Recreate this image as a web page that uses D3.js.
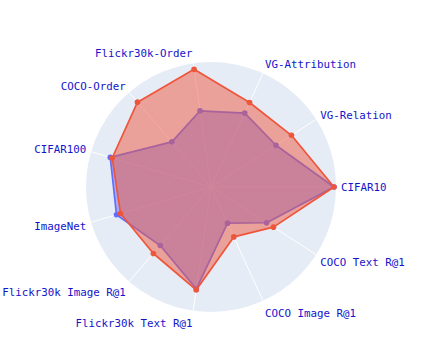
<!DOCTYPE html>
<html>
<head>
<meta charset="utf-8">
<script src="https://cdn.jsdelivr.net/npm/d3@7"></script>
<style>
  html, body { margin: 0; padding: 0; background: #fff; }
  svg { display: block; }
</style>
</head>
<body>
<svg id="radar" width="423" height="363"></svg>
<script>
// categories, counter-clockwise starting from the right
var categories = ["CIFAR10", "VG-Relation", "VG-Attribution", "Flickr30k-Order", "COCO-Order",
  "CIFAR100", "ImageNet", "Flickr30k Image R@1", "Flickr30k Text R@1", "COCO Image R@1", "COCO Text R@1"];

// blue series (drawn first, underneath)
var blueValues = [98.4, 61.8, 65.0, 61.6, 47.8, 84.0, 78.8, 62.0, 82.4, 31.8, 52.9];
// red series (drawn on top)
var redValues = [98.4, 76.5, 74.3, 95.1, 89.8, 82.4, 75.4, 70.4, 83.2, 43.9, 59.4];

var radialMax = 100;

// Variables
var width = 423, height = 363;
var cx = 211, cy = 187, R = 125;
var fontSize = 10.8, pad = 5;

var svg = d3.select("#radar");
var g = svg.append("g").attr("transform", "translate(" + cx + "," + cy + ")");

var r = d3.scaleLinear().domain([0, radialMax]).range([0, R]);
// math angle, counter-clockwise from east
var theta = d3.scaleLinear().domain([0, categories.length]).range([0, 2 * Math.PI]);

// background disc
g.append("circle").attr("r", R).attr("fill", "#E5ECF6");

// spokes
g.selectAll(".spoke")
  .data(categories)
  .enter()
  .append("line")
  .attr("class", "spoke")
  .attr("x1", 0).attr("y1", 0)
  .attr("x2", function(d, i) { return R * Math.cos(theta(i)); })
  .attr("y2", function(d, i) { return -R * Math.sin(theta(i)); })
  .attr("stroke", "#ffffff")
  .attr("stroke-width", 1);

// lineRadial wants clockwise angle from 12 o'clock
var radial = d3.lineRadial()
  .angle(function(d, i) { return Math.PI / 2 - theta(i); })
  .radius(function(d) { return r(d); })
  .curve(d3.curveLinearClosed);

function drawSeries(values, color) {
  var s = g.append("g");
  s.append("path")
    .attr("d", radial(values))
    .attr("fill", color)
    .attr("fill-opacity", 0.5)
    .attr("stroke", color)
    .attr("stroke-width", 1.7)
    .attr("stroke-linejoin", "round");
  s.selectAll("circle")
    .data(values)
    .enter()
    .append("circle")
    .attr("cx", function(d, i) { return r(d) * Math.cos(theta(i)); })
    .attr("cy", function(d, i) { return -r(d) * Math.sin(theta(i)); })
    .attr("r", 2.8)
    .attr("fill", color);
}

drawSeries(blueValues, "#636EFA");
drawSeries(redValues, "#EF553B");

// angular tick labels, placed the way plotly does it
g.selectAll(".label")
  .data(categories)
  .enter()
  .append("text")
  .attr("class", "label")
  .attr("x", function(d, i) { return (R + pad) * Math.cos(theta(i)); })
  .attr("y", function(d, i) {
    var s = Math.sin(theta(i)), c = Math.cos(theta(i));
    var ff = s > 0 ? 0.2 : 1;
    return -R * s - s * (pad + fontSize * ff) + Math.abs(c) * fontSize * 0.35;
  })
  .attr("text-anchor", function(d, i) {
    var c = Math.cos(theta(i));
    return Math.abs(c) < 0.1 ? "middle" : (c > 0 ? "start" : "end");
  })
  .style("font-family", "'DejaVu Sans Mono', monospace")
  .style("font-size", fontSize + "px")
  .attr("fill", "#1414cc")
  .text(function(d) { return d; });
</script>
</body>
</html>
